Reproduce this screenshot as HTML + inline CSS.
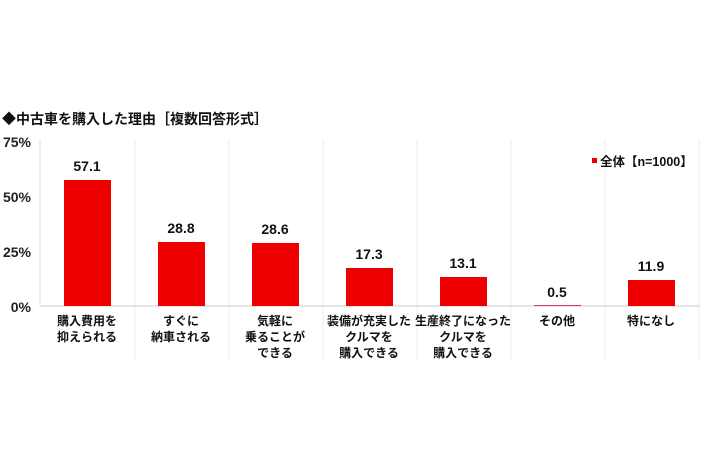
<!DOCTYPE html><html><head><meta charset="utf-8"><style>
body{margin:0;background:#fff;width:710px;height:474px;overflow:hidden;font-family:"Liberation Sans","Noto Sans CJK JP",sans-serif;font-weight:bold;color:#111}
</style></head><body>
<svg width="710" height="474" xmlns="http://www.w3.org/2000/svg" style="position:absolute;left:0;top:0;font-family:'Liberation Sans','Noto Sans CJK JP',sans-serif;font-weight:bold">
<text x="2" y="124" font-size="14" fill="#111">◆中古車を購入した理由［複数回答形式］</text>
<g fill="#222" font-size="14" text-anchor="end">
<text x="31" y="147">75%</text><text x="31" y="202">50%</text><text x="31" y="257">25%</text><text x="31" y="312">0%</text>
</g>
<line x1="40" y1="140" x2="40" y2="306" stroke="#ddd"/>
<g stroke="#eee">
<line x1="135" y1="140" x2="135" y2="360"/><line x1="229" y1="140" x2="229" y2="360"/><line x1="323" y1="140" x2="323" y2="360"/><line x1="417" y1="140" x2="417" y2="360"/><line x1="511" y1="140" x2="511" y2="360"/><line x1="605" y1="140" x2="605" y2="360"/><line x1="699" y1="140" x2="699" y2="360"/>
</g>
<line x1="40" y1="306" x2="700" y2="306" stroke="#ccc"/>
<g fill="#ee0000">
<rect x="64" y="180" width="47" height="126"/>
<rect x="158" y="242" width="47" height="64"/>
<rect x="252" y="243" width="47" height="63"/>
<rect x="346" y="268" width="47" height="38"/>
<rect x="440" y="277" width="47" height="29"/>
<rect x="534" y="305" width="47" height="1" fill="#d04060"/>
<rect x="628" y="280" width="47" height="26"/>
</g>
<g font-size="14" text-anchor="middle" fill="#111">
<text x="87" y="171">57.1</text><text x="181" y="233">28.8</text><text x="275" y="234">28.6</text><text x="369" y="259">17.3</text><text x="463" y="268">13.1</text><text x="557" y="297">0.5</text><text x="651" y="271">11.9</text>
</g>
<rect x="592" y="158" width="5" height="5" fill="#ee0000"/>
<text x="600" y="166" font-size="12.5" fill="#111">全体【n=1000】</text>
<g font-size="12" text-anchor="middle" fill="#111">
<text x="87" y="325">購入費用を</text><text x="87" y="341">抑えられる</text>
<text x="181" y="325">すぐに</text><text x="181" y="341">納車される</text>
<text x="275" y="325">気軽に</text><text x="275" y="341">乗ることが</text><text x="275" y="357">できる</text>
<text x="369" y="325">装備が充実した</text><text x="369" y="341">クルマを</text><text x="369" y="357">購入できる</text>
<text x="463" y="325">生産終了になった</text><text x="463" y="341">クルマを</text><text x="463" y="357">購入できる</text>
<text x="557" y="325">その他</text>
<text x="651" y="325">特になし</text>
</g>
</svg>
</body></html>
